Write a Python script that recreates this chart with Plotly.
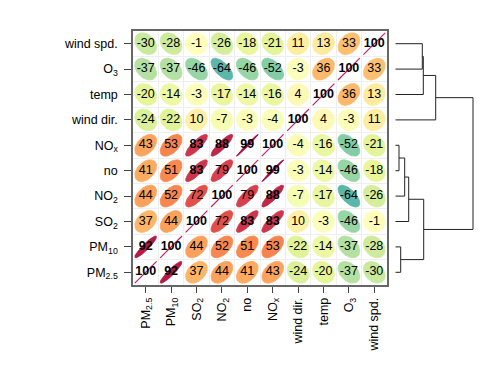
import numpy as np
import plotly.graph_objects as go

# ---- data ----
variables = ["PM2.5", "PM10", "SO2", "NO2", "no", "NOx", "wind dir.", "temp", "O3", "wind spd."]
tick_labels = ["PM<sub>2.5</sub>", "PM<sub>10</sub>", "SO<sub>2</sub>", "NO<sub>2</sub>", "no",
               "NO<sub>x</sub>", "wind dir.", "temp", "O<sub>3</sub>", "wind spd."]
# correlation (x100), rows/cols in the order of `variables`
corr = [
    [100, 92, 37, 44, 41, 43, -24, -20, -37, -30],
    [92, 100, 44, 52, 51, 53, -22, -14, -37, -28],
    [37, 44, 100, 72, 83, 83, 10, -3, -46, -1],
    [44, 52, 72, 100, 79, 88, -7, -17, -64, -26],
    [41, 51, 83, 79, 100, 99, -3, -14, -46, -18],
    [43, 53, 83, 88, 99, 100, -4, -16, -52, -21],
    [-24, -22, 10, -7, -3, -4, 100, 4, -3, 11],
    [-20, -14, -3, -17, -14, -16, 4, 100, 36, 13],
    [-37, -37, -46, -64, -46, -52, -3, 36, 100, 33],
    [-30, -28, -1, -26, -18, -21, 11, 13, 33, 100],
]
# dendrogram merges: (left, right, height)
merges = [
    ("NOx", "no", 3.7),
    ("PM2.5", "PM10", 5.4),
    ("c1", "NO2", 9.4),
    ("c3", "SO2", 13.4),
    ("wind spd.", "O3", 27.0),
    ("c5", "temp", 28.0),
    ("c6", "wind dir.", 40.4),
    ("c4", "c2", 28.4),
    ("c7", "c8", 77.7),
]
r_thresh = 80

# ---- colours (reversed Spectral) ----
spectral_rev = ["#5E4FA2", "#3288BD", "#66C2A5", "#ABDDA4", "#E6F598", "#FFFFBF",
                "#FEE08B", "#FDAE61", "#F46D43", "#D53E4F", "#9E0142"]


def hex2rgb(h):
    h = h.lstrip("#")
    return np.array([int(h[i:i + 2], 16) for i in (0, 2, 4)], float)


stops = np.array([hex2rgb(c) for c in spectral_rev])


def colour(r):
    t = (r + 1) / 2 * (len(stops) - 1)
    i = int(np.floor(t))
    i = min(max(i, 0), len(stops) - 2)
    f = t - i
    c = stops[i] * (1 - f) + stops[i + 1] * f
    return "rgb(%d,%d,%d)" % tuple(np.round(c))


fig = go.Figure()

k = np.sqrt(-2 * np.log(0.1)) * 0.2
a = np.linspace(0, 2 * np.pi, 60)
n = len(variables)
tx, ty, tt = [], [], []
for i in range(n):        # row -> y
    for j in range(n):    # col -> x
        v = corr[i][j]
        r = max(min(v / 100.0, 1), -1)
        d = np.arccos(r)
        col = colour(r)
        if abs(v) >= 100:
            fig.add_trace(go.Scatter(x=[j - k, j + k], y=[i - k * r, i + k * r], mode="lines",
                                     line=dict(color="#C2185B", width=1.1), hoverinfo="skip",
                                     showlegend=False, xaxis="x", yaxis="y"))
        else:
            ex = j + k * np.cos(a + d / 2)
            ey = i + k * np.cos(a - d / 2)
            fig.add_trace(go.Scatter(x=ex, y=ey, mode="lines", fill="toself", fillcolor=col,
                                     line=dict(color=col, width=0.8), hoverinfo="skip",
                                     showlegend=False, xaxis="x", yaxis="y"))
        tx.append(j)
        ty.append(i)
        tt.append("<b>%d</b>" % v if abs(v) > r_thresh else "%d" % v)

fig.add_trace(go.Scatter(x=tx, y=ty, text=tt, mode="text",
                         textfont=dict(size=12.5, color="black", family="Liberation Sans, Arial, sans-serif"),
                         showlegend=False, hoverinfo="skip", xaxis="x", yaxis="y"))

# ---- dendrogram ----
pos = {v: i for i, v in enumerate(variables)}
hgt = {v: 0.0 for v in variables}
dx, dy = [], []
for m, (p, q, h) in enumerate(merges, start=1):
    yp, yq = pos[p], pos[q]
    dx += [hgt[p], h, h, hgt[q], None]
    dy += [yp, yp, yq, yq, None]
    name = "c%d" % m
    pos[name] = (yp + yq) / 2
    hgt[name] = h
fig.add_trace(go.Scatter(x=dx, y=dy, mode="lines", line=dict(color="#222", width=1),
                         hoverinfo="skip", showlegend=False, xaxis="x2", yaxis="y2"))

W, H = 501, 384
ml, mr, mt, mb = 125, 30, 23, 107
pw = W - ml - mr
box = 254
font = dict(family="Liberation Sans, Arial, sans-serif", size=12.5, color="black")
fig.update_layout(
    width=W, height=H, margin=dict(l=ml, r=mr, t=mt, b=mb),
    paper_bgcolor="white", plot_bgcolor="white", font=font,
    xaxis=dict(domain=[0, box / pw], range=[-0.5, n - 0.5], tickvals=list(range(n)),
               ticktext=tick_labels, tickangle=-90, ticks="outside", ticklen=6,
               tickcolor="#444", showgrid=False, zeroline=False, showline=True,
               linecolor="#666", linewidth=1.5, mirror=True, fixedrange=True,
               minor=dict(tick0=0.5, dtick=1, showgrid=True, gridcolor="#EFEFEF", ticks=""),
               tickfont=font, anchor="y"),
    yaxis=dict(domain=[0, 1], range=[-0.5, n - 0.5], tickvals=list(range(n)),
               ticktext=tick_labels, ticks="outside", ticklen=7, tickcolor="#444",
               showgrid=False, zeroline=False, showline=True, linecolor="#666",
               linewidth=1.5, mirror=True, ticklabelstandoff=4,
               minor=dict(tick0=0.5, dtick=1, showgrid=True, gridcolor="#EFEFEF", ticks=""),
               tickfont=font, anchor="x"),
    xaxis2=dict(domain=[(387.3 - ml) / pw, 1], range=[0, W - mr - 387.3], visible=False,
                anchor="y2"),
    yaxis2=dict(domain=[0, 1], range=[-0.5, n - 0.5], matches="y", visible=False,
                anchor="x2"),
)

fig.write_html("out.html")
